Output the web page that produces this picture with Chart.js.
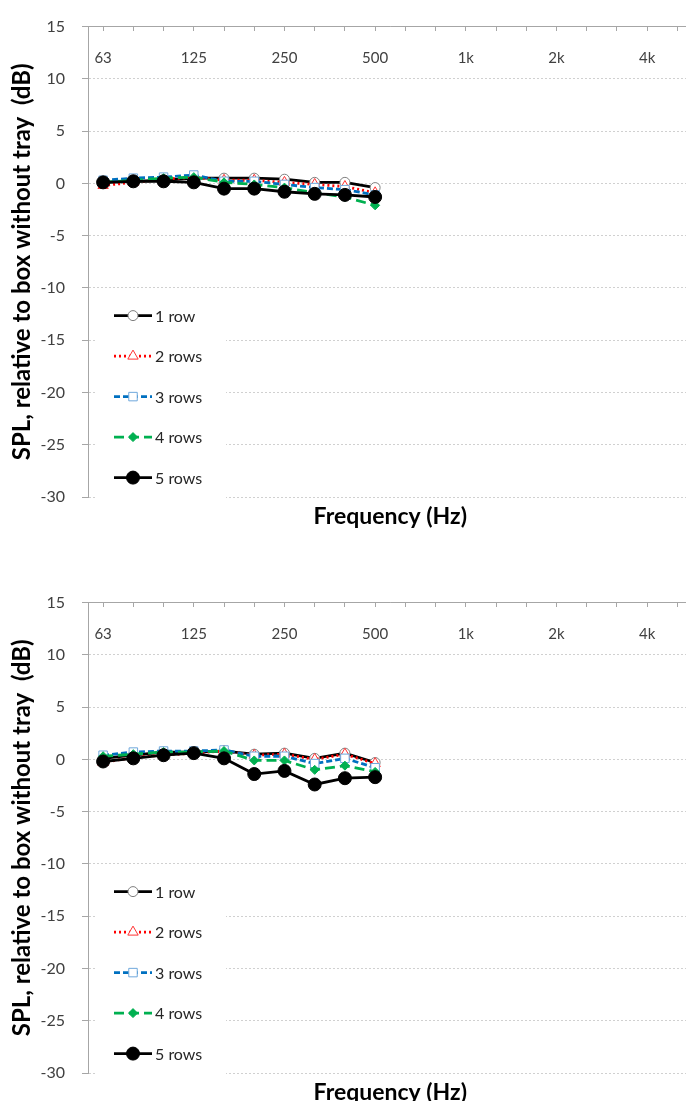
<!DOCTYPE html>
<html>
<head>
<meta charset="utf-8">
<script src="https://cdn.jsdelivr.net/npm/chart.js@4.4.0/dist/chart.umd.min.js"></script>
<style>
  html, body { margin: 0; padding: 0; background: #fff; overflow: hidden; }
  canvas { display: block; }
</style>
</head>
<body>
<canvas id="chartTop" width="700" height="576"></canvas>
<canvas id="chartBottom" width="700" height="576"></canvas>
<script>
// third-octave bands, only every third one gets a label
const frequencies = ['63', '80', '100', '125', '160', '200', '250', '315', '400', '500',
  '630', '800', '1k', '1.25k', '1.6k', '2k', '2.5k', '3.15k', '4k', '5k'];
const shownLabels = ['63', '125', '250', '500', '1k', '2k', '4k'];
const seriesNames = ['1 row', '2 rows', '3 rows', '4 rows', '5 rows'];
const yTicks = [15, 10, 5, 0, -5, -10, -15, -20, -25, -30];

// upper panel (dB)
const top1Row  = [0.1, 0.2, 0.3, 0.5, 0.5, 0.5, 0.4, 0.1, 0.1, -0.4];
const top2Rows = [-0.2, 0.1, 0.4, 0.6, 0.3, 0.3, 0.1, -0.1, -0.3, -0.9];
const top3Rows = [0.3, 0.5, 0.6, 0.8, 0.2, 0.2, -0.1, -0.4, -0.6, -1.1];
const top4Rows = [0.1, 0.3, 0.5, 0.6, 0.1, -0.1, -0.4, -0.9, -1.3, -2.1];
const top5Rows = [0.1, 0.2, 0.2, 0.1, -0.5, -0.5, -0.8, -1.0, -1.1, -1.3];

// lower panel (dB)
const bottom1Row  = [0.1, 0.4, 0.7, 0.7, 0.8, 0.5, 0.6, 0.1, 0.6, -0.3];
const bottom2Rows = [-0.3, 0.2, 0.4, 0.6, 0.8, 0.4, 0.5, 0.0, 0.5, -0.4];
const bottom3Rows = [0.4, 0.7, 0.8, 0.8, 0.9, 0.3, 0.3, -0.4, 0.1, -0.8];
const bottom4Rows = [0.3, 0.5, 0.7, 0.7, 0.8, -0.1, -0.1, -1.0, -0.6, -1.2];
const bottom5Rows = [-0.2, 0.1, 0.4, 0.6, 0.1, -1.4, -1.1, -2.4, -1.8, -1.7];

const FONT = 'Lato, "Open Sans", sans-serif';
Chart.defaults.font.family = FONT;

const seriesStyles = [
  { color: '#000000', dash: [], pointStyle: 'circle', radius: 5, fill: '#ffffff', edge: '#7f7f7f' },
  { color: '#ff0000', dash: [2, 3], pointStyle: 'triangle', radius: 6, fill: '#ffffff', edge: '#ff3333' },
  { color: '#0070c0', dash: [6, 3], pointStyle: 'rect', radius: 6, fill: '#ffffff', edge: '#6fa8dc' },
  { color: '#00b050', dash: [10, 5], pointStyle: 'rectRot', radius: 4.5, fill: '#00b050', edge: '#00b050' },
  { color: '#000000', dash: [], pointStyle: 'circle', radius: 6.5, fill: '#000000', edge: '#000000' }
];

// legend drawn inside the plot, line sample with the marker on it
const insideLegend = {
  id: 'insideLegend',
  afterDatasetsDraw(chart, args, opts) {
    const ctx = chart.ctx;
    const area = chart.chartArea;
    ctx.save();
    ctx.fillStyle = '#ffffff';
    ctx.fillRect(area.left + opts.boxLeft, area.top + opts.boxTop, opts.boxWidth, opts.boxHeight);
    chart.data.datasets.forEach((ds, i) => {
      const st = seriesStyles[i];
      const y = area.top + opts.firstRow + i * opts.rowGap;
      const x1 = area.left + opts.lineStart;
      const x2 = area.left + opts.lineEnd;
      ctx.strokeStyle = st.color;
      ctx.lineWidth = ds.borderWidth;
      ctx.setLineDash(st.dash);
      ctx.beginPath();
      ctx.moveTo(x1, y);
      ctx.lineTo(x2, y);
      ctx.stroke();
      ctx.setLineDash([]);
      ctx.fillStyle = st.fill;
      ctx.strokeStyle = st.edge;
      ctx.lineWidth = 1;
      Chart.helpers.drawPoint(ctx, { pointStyle: st.pointStyle, radius: st.radius, rotation: 0, borderWidth: 1 }, (x1 + x2) / 2, y);
      ctx.fillStyle = '#262626';
      ctx.font = '16px ' + FONT;
      ctx.textAlign = 'left';
      ctx.textBaseline = 'middle';
      ctx.fillText(ds.label, x2 + 3, y + 1);
    });
    ctx.restore();
  }
};

function buildChart(canvasId, seriesValues) {
  const datasets = seriesValues.map((vals, i) => ({
    label: seriesNames[i],
    data: vals,
    xAxisID: 'x',
    yAxisID: 'y',
    order: seriesValues.length - i,
    borderColor: seriesStyles[i].color,
    borderWidth: 2.8,
    borderDash: seriesStyles[i].dash,
    pointStyle: seriesStyles[i].pointStyle,
    pointRadius: seriesStyles[i].radius,
    pointBackgroundColor: seriesStyles[i].fill,
    pointBorderColor: seriesStyles[i].edge,
    pointBorderWidth: 1,
    tension: 0
  }));

  return new Chart(document.getElementById(canvasId), {
    type: 'line',
    data: { labels: frequencies, datasets: datasets },
    options: {
      responsive: false,
      animation: false,
      devicePixelRatio: 1,
      layout: { padding: { top: 21, right: 3, left: 0, bottom: 0 } },
      plugins: {
        legend: { display: false },
        tooltip: { enabled: false },
        insideLegend: {
          boxLeft: 8, boxTop: 268, boxWidth: 130, boxHeight: 205,
          firstRow: 289, rowGap: 40.5, lineStart: 26, lineEnd: 64
        }
      },
      scales: {
        x: {
          type: 'category',
          position: { y: 15 },
          offset: true,
          grid: { drawOnChartArea: false, tickLength: 4, color: '#a6a6a6' },
          border: { color: '#a6a6a6' },
          ticks: {
            autoSkip: false,
            maxRotation: 0,
            padding: 19,
            color: '#404040',
            font: { size: 15 },
            callback(value) {
              const label = this.getLabelForValue(value);
              return shownLabels.includes(label) ? label : '';
            }
          }
        },
        x2: {
          type: 'category',
          position: 'bottom',
          offset: true,
          grid: { display: false },
          border: { display: false },
          ticks: { display: false },
          title: {
            display: true,
            text: 'Frequency (Hz)',
            color: '#000000',
            font: { size: 23, weight: 'bold' },
            padding: { top: 0, bottom: 46 }
          },
          afterFit(scale) { scale.height = 79; }
        },
        y: {
          min: -30,
          max: 15,
          afterBuildTicks(scale) { scale.ticks = yTicks.map(v => ({ value: v })); },
          ticks: { padding: 17, color: '#404040', font: { size: 16 } },
          grid: { color: '#d0d0d0', tickLength: 6, tickColor: '#a6a6a6', tickBorderDash: [] },
          border: { color: '#a6a6a6', dash: [2, 2] },
          title: {
            display: true,
            text: 'SPL, relative to box without tray  (dB)',
            color: '#000000',
            font: { size: 24, weight: 'bold' },
            padding: { top: 8, bottom: 0 }
          },
          afterFit(scale) { scale.width = 88; }
        }
      }
    },
    plugins: [insideLegend]
  });
}

buildChart('chartTop', [top1Row, top2Rows, top3Rows, top4Rows, top5Rows]);
buildChart('chartBottom', [bottom1Row, bottom2Rows, bottom3Rows, bottom4Rows, bottom5Rows]);
</script>
</body>
</html>
